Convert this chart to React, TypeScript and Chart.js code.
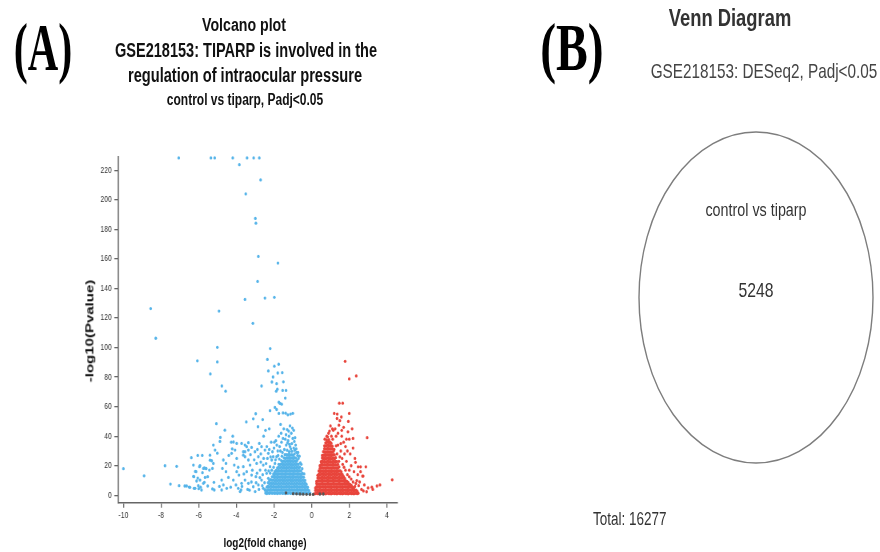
import React, { useEffect, useRef } from "react";
import { Chart, registerables } from "chart.js";

Chart.register(...registerables);

// ---------------- DATA ----------------
const xTicks = [-10, -8, -6, -4, -2, 0, 2, 4];
const yTicks = [0, 20, 40, 60, 80, 100, 120, 140, 160, 180, 200, 220];
const xRange = [-10.27, 4.55];
const yRange = [-5, 229];

// down-regulated, scattered points [log2FC, -log10 p]
const blueSparse: [number, number][] = [
  [-7.06, 228.4], [-5.35, 228.4], [-5.15, 228.4], [-4.19, 228.4], [-3.84, 223.8], [-3.43, 228.4],
  [-3.08, 228.4], [-2.78, 228.4], [-2.71, 213.5], [-3.5, 204], [-2.99, 187.4], [-2.96, 184.2],
  [-2.83, 161.7], [-1.79, 157.2], [-2.87, 144.8], [-3.54, 132.6], [-2.48, 133.5], [-1.98, 134],
  [-8.55, 126.4], [-4.92, 124.7], [-3.12, 116.4], [-8.28, 106.3],
  [-5.01, 100.2], [-2.2, 99.3], [-6.07, 91], [-5.01, 90.3], [-2.35, 92], [-1.98, 87.4], [-1.75, 88.7],
  [-2.3, 84.2], [-5.38, 82.2], [-1.8, 82.8], [-1.56, 83], [-2.05, 80.1], [-2.11, 76.7], [-4.77, 74],
  [-4.57, 70.5], [-2.66, 74], [-1.86, 75.6], [-1.5, 76.8], [-1.88, 70.5], [-1.82, 71.8], [-1.54, 71],
  [-1.36, 71], [-1.4, 65.8], [-1.74, 63], [-1.68, 62.2], [-1.59, 61.7], [-2.21, 57.3], [-1.95, 59.5],
  [-1.86, 58.1], [-1.74, 55.4], [-1.52, 55.8], [-1.38, 55.6], [-1.26, 54.5], [-1.12, 55], [-1.0, 55.5],
  [-2.97, 55.2], [-2.6, 51.3], [-3.1, 51.8], [-3.47, 49.7], [-5.06, 48.5], [-2.85, 46.4], [-4.61, 44.1],
  [-1.3, 44.5], [-1.22, 43.5], [-4.85, 39.2], [-4.87, 36.5], [-4.19, 40], [-4.15, 36.1], [-5.22, 34],
  [-5.13, 30.6], [-5.01, 28.5], [-4.27, 36], [-4.22, 31.5], [-3.98, 35.1], [-3.72, 35.1], [-3.54, 34],
  [-3.36, 35.6], [-3.45, 32.9], [-3.19, 32.4], [-3.36, 30.6], [-3.54, 29.5], [-3.63, 27.2],
  [-10, 18], [-8.9, 13.2], [-7.79, 20], [-7.17, 19.6], [-7.5, 7.6], [-7.04, 6.5], [-6.74, 6.3],
  [-6.51, 5.6], [-6.25, 4.7], [-6.39, 25.5], [-6.05, 27], [-5.81, 27], [-6.18, 16.2], [-6.28, 12.8],
  [-5.93, 20], [-5.7, 18.5], [-5.6, 18], [-6.05, 11.7], [-6.02, 6.5], [-6.0, 4.5], [-5.9, 5.5],
  [-5.85, 3.6], [-5.52, 12.6], [-5.7, 8.8], [-5.4, 23.8],
  [-6.28, 20.5], [-5.96, 19.4], [-6.14, 16], [-6.25, 12.6], [-6.11, 9.7], [-5.93, 10.3], [-6.64, 6.3],
  [-6.46, 5.4], [-6.19, 4.7],
  [-5.4, 27.2], [-5.31, 23.4], [-5.22, 21.6], [-5.27, 18.2], [-5.43, 17.1], [-5.61, 18.2], [-5.75, 18.2],
  [-5.8, 15.3], [-5.66, 12.1], [-5.75, 8.1], [-5.52, 6.3], [-5.27, 4.3], [-5.19, 8.8], [-5.17, 3.6],
  [-4.69, 23.9], [-4.55, 21.6], [-4.74, 18.2], [-4.55, 16], [-4.42, 12.1], [-4.78, 10.3], [-4.69, 7],
  [-4.51, 4.7], [-4.78, 3.6],
  [-4.25, 28.4], [-4.07, 30.6], [-3.98, 25], [-4.11, 20.5], [-3.98, 16], [-3.86, 13.7], [-4.16, 10.3],
  [-4.02, 7], [-3.9, 4.7], [-3.75, 3.6],
  [-3.63, 29.5], [-3.54, 26.1], [-3.36, 23.9], [-3.27, 20.5], [-3.63, 19.4], [-3.45, 16], [-3.19, 13.7],
  [-3.54, 10.3], [-3.36, 8.1], [-3.1, 5.8], [-3.72, 8.1],
  [-3.01, 29.5], [-2.78, 35.1], [-2.66, 32.9], [-2.83, 26.1], [-2.92, 21.6], [-2.57, 20.5], [-2.74, 17.1],
  [-2.96, 12.6], [-2.66, 10.3], [-2.83, 7], [-2.57, 4.7], [-2.48, 3.6],
  [-2.39, 14.9], [-2.3, 11.5], [-2.21, 19.4], [-2.12, 23.9], [-2.04, 26.1], [-1.95, 21.6], [-2.3, 28.4],
  [-2.48, 30.6], [-2.35, 25], [-1.86, 26.1],
  [-1.8, 30], [-1.7, 33], [-1.6, 36], [-1.55, 29], [-1.45, 31], [-1.4, 38], [-1.35, 34], [-1.3, 30.5],
  [-1.25, 37], [-1.2, 40], [-1.15, 33], [-1.1, 31.5], [-1.05, 35], [-1.0, 38.5], [-0.95, 32], [-0.9, 30.5],
  [-0.85, 34], [-0.8, 29], [-0.75, 27], [-0.7, 25], [-1.62, 42], [-1.48, 45], [-1.15, 47], [-1.08, 42],
  [-0.95, 44], [-0.88, 39], [-2.0, 32], [-1.9, 37], [-1.75, 40], [-2.15, 36], [-2.55, 40], [-2.45, 44],
  [-2.25, 45], [-1.65, 48], [-0.6, 22], [-0.5, 18], [-0.4, 14.5],
  [-3.3, 3.5], [-3.2, 9], [-3.15, 17], [-3.05, 24], [-3.0, 2.5], [-2.95, 8.5], [-2.9, 15], [-2.88, 31],
  [-2.8, 4], [-2.75, 12], [-2.7, 22.5], [-2.7, 28], [-2.62, 6.5], [-2.6, 14], [-2.55, 25], [-2.5, 8.5],
  [-2.45, 17], [-2.42, 21.5], [-2.38, 33], [-2.33, 6], [-2.28, 16.5], [-2.25, 31], [-2.2, 15], [-2.18, 26],
  [-2.12, 17], [-2.08, 29.5], [-2.02, 19], [-1.98, 36], [-1.92, 24], [-1.85, 34], [-1.78, 27], [-1.72, 24.5],
  [-1.66, 30], [-1.58, 26.5], [-1.52, 38.5], [-1.42, 27.5], [-1.36, 41], [-1.28, 35.5], [-1.18, 34.5],
  [-1.02, 45.5], [-0.92, 36.5], [-0.82, 31.5], [-0.72, 29], [-0.65, 26.5], [-0.55, 21], [-3.8, 2.5],
  [-3.7, 6], [-4.3, 5.5], [-4.9, 6], [-3.4, 4], [-3.6, 14.5], [-3.9, 19], [-4.4, 27], [-3.25, 27.5],
];

// down-regulated, dense cloud: [log2FC, list of -log10 p]
const blueDense: [number, number[]][] = [
  [-2.45, [1.5, 3.5]],
  [-2.38, [1.2, 3, 5.5]],
  [-2.31, [1.6, 3.8, 6, 8.5]],
  [-2.24, [1.3, 3.4, 5.6, 7.8, 10]],
  [-2.17, [1.8, 4, 6.2, 8.3, 10.6]],
  [-2.1, [1.4, 3.5, 5.7, 7.9, 10.1, 12.5]],
  [-2.03, [1.7, 3.9, 6, 8.2, 10.4, 12.6, 14.5]],
  [-1.96, [1.3, 3.4, 5.5, 7.7, 9.8, 12, 14.1, 16]],
  [-1.89, [1.6, 3.8, 5.9, 8.1, 10.2, 12.4, 14.6, 16.8]],
  [-1.82, [1.2, 3.3, 5.5, 7.6, 9.8, 11.9, 14.1, 16.3, 18.5]],
  [-1.75, [1.7, 3.9, 6, 8.2, 10.3, 12.5, 14.6, 16.8, 19, 21]],
  [-1.68, [1.4, 3.5, 5.7, 7.8, 10, 12.1, 14.3, 16.4, 18.6, 20.8]],
  [-1.61, [1.8, 4, 6.1, 8.3, 10.4, 12.6, 14.7, 16.9, 19.1, 21.3, 23.5]],
  [-1.54, [1.3, 3.4, 5.6, 7.7, 9.9, 12, 14.2, 16.3, 18.5, 20.7, 22.8]],
  [-1.47, [1.6, 3.8, 5.9, 8.1, 10.2, 12.4, 14.5, 16.7, 18.9, 21, 23.2, 25.4]],
  [-1.4, [1.2, 3.3, 5.5, 7.6, 9.8, 11.9, 14.1, 16.2, 18.4, 20.6, 22.7, 24.9]],
  [-1.33, [1.7, 3.9, 6, 8.2, 10.3, 12.5, 14.6, 16.8, 19, 21.1, 23.3, 25.5, 27.6]],
  [-1.26, [1.4, 3.5, 5.7, 7.8, 10, 12.1, 14.3, 16.4, 18.6, 20.8, 22.9, 25.1, 27.3]],
  [-1.19, [1.8, 4, 6.1, 8.3, 10.4, 12.6, 14.7, 16.9, 19.1, 21.2, 23.4, 25.6, 27.8, 29.5]],
  [-1.12, [1.3, 3.4, 5.6, 7.7, 9.9, 12, 14.2, 16.3, 18.5, 20.7, 22.8, 25, 27.2]],
  [-1.05, [1.6, 3.8, 5.9, 8.1, 10.2, 12.4, 14.5, 16.7, 18.9, 21, 23.2, 25.4, 27.5, 29.8]],
  [-0.98, [1.2, 3.3, 5.5, 7.6, 9.8, 11.9, 14.1, 16.2, 18.4, 20.6, 22.7, 24.9, 27]],
  [-0.91, [1.7, 3.9, 6, 8.2, 10.3, 12.5, 14.6, 16.8, 19, 21.1, 23.3, 25.5, 28]],
  [-0.84, [1.4, 3.5, 5.7, 7.8, 10, 12.1, 14.3, 16.4, 18.6, 20.8, 22.9, 25.2]],
  [-0.77, [1.8, 4, 6.1, 8.3, 10.4, 12.6, 14.7, 16.9, 19.1, 21.2, 23.6]],
  [-0.7, [1.3, 3.4, 5.6, 7.7, 9.9, 12, 14.2, 16.3, 18.5, 20.9]],
  [-0.63, [1.6, 3.8, 5.9, 8.1, 10.2, 12.4, 14.5, 16.7, 19]],
  [-0.56, [1.2, 3.3, 5.5, 7.6, 9.8, 11.9, 14.1, 16.4]],
  [-0.49, [1.7, 3.9, 6, 8.2, 10.3, 12.5, 14.8]],
  [-0.42, [1.4, 3.5, 5.7, 7.8, 10, 12.2]],
  [-0.35, [1.8, 4, 6.1, 8.3, 10.1]],
  [-0.28, [1.3, 3.4, 5.6, 7.5]],
  [-0.21, [1.6, 3.8, 5.5]],
  [-0.14, [1.2, 3.2]],
  [-0.08, [1.5]],
];

// up-regulated, scattered points
const redSparse: [number, number][] = [
  [1.78, 90.7], [2.0, 78.8], [2.37, 80.8], [1.47, 62.4], [1.65, 62.4], [1.2, 55.4], [1.36, 55], [2.0, 55.4],
  [1.35, 52], [1.5, 50.5], [1.58, 53], [1.45, 47.5], [1.0, 47], [1.1, 45], [0.95, 43.5], [1.15, 44],
  [1.93, 43], [2.0, 38], [2.2, 38.5], [2.95, 39], [1.6, 40], [1.7, 36], [1.8, 33], [1.9, 30], [1.75, 28],
  [2.05, 28], [2.2, 32], [1.62, 25], [1.85, 23], [2.33, 22.3], [2.1, 20], [2.6, 19.3], [2.88, 19.3],
  [2.25, 16], [2.45, 14], [2.7, 13], [2.55, 9], [2.8, 7], [2.92, 2.4], [3.25, 4], [3.47, 6.3], [3.63, 7],
  [3.2, 5.5], [4.28, 10.5], [2.4, 10], [2.0, 17], [1.55, 30], [1.4, 34], [1.3, 40], [1.25, 45], [0.8, 40],
  [0.9, 42], [1.05, 40], [1.7, 46], [1.95, 50], [2.65, 4], [2.35, 8], [3.0, 5], [2.75, 3], [2.3, 25],
  [2.47, 19.3], [2.6, 16], [2.74, 13], [1.5, 26], [1.45, 23], [1.65, 21], [1.72, 19], [1.8, 17], [1.9, 14],
  [2.0, 12.5], [2.1, 11], [2.2, 9], [2.3, 6], [2.5, 6.5], [1.35, 28], [1.2, 31], [1.3, 33.5], [1.55, 35],
  [1.12, 38], [0.85, 39.5], [1.4, 42], [1.6, 44], [0.7, 38], [1.85, 38], [2.15, 45],
];

// up-regulated, dense cloud
const redDense: [number, number[]][] = [
  [0.14, [1.0]],
  [0.2, [1.2, 3.3, 5]],
  [0.26, [1.5, 3.6, 5.8, 8, 9.5]],
  [0.32, [1.1, 3.2, 5.4, 7.5, 9.7, 11.8, 13.5]],
  [0.38, [1.4, 3.5, 5.7, 7.8, 10, 12.1, 14.3, 16.5]],
  [0.44, [1.0, 3.1, 5.3, 7.4, 9.6, 11.7, 13.9, 16, 18.2, 20]],
  [0.5, [1.3, 3.4, 5.6, 7.7, 9.9, 12, 14.2, 16.3, 18.5, 20.7, 22.8]],
  [0.56, [1.6, 3.7, 5.9, 8, 10.2, 12.3, 14.5, 16.6, 18.8, 21, 23.1, 25.3, 27]],
  [0.62, [1.1, 3.2, 5.4, 7.5, 9.7, 11.8, 14, 16.1, 18.3, 20.5, 22.6, 24.8, 27, 29.5]],
  [0.68, [1.4, 3.5, 5.7, 7.8, 10, 12.1, 14.3, 16.4, 18.6, 20.8, 22.9, 25.1, 27.3, 29.4, 31.6, 33.5]],
  [0.74, [1.0, 3.1, 5.3, 7.4, 9.6, 11.7, 13.9, 16, 18.2, 20.4, 22.5, 24.7, 26.9, 29, 31.2, 33.4, 35.5]],
  [0.8, [1.3, 3.4, 5.6, 7.7, 9.9, 12, 14.2, 16.3, 18.5, 20.7, 22.8, 25, 27.2, 29.3, 31.5, 33.7, 35.8, 37.5]],
  [0.86, [1.6, 3.7, 5.9, 8, 10.2, 12.3, 14.5, 16.6, 18.8, 21, 23.1, 25.3, 27.5, 29.6, 31.8, 34, 36.2]],
  [0.92, [1.1, 3.2, 5.4, 7.5, 9.7, 11.8, 14, 16.1, 18.3, 20.5, 22.6, 24.8, 27, 29.1, 31.3, 33.5, 35.7, 37.6]],
  [0.98, [1.4, 3.5, 5.7, 7.8, 10, 12.1, 14.3, 16.4, 18.6, 20.8, 22.9, 25.1, 27.3, 29.4, 31.6, 33.8, 36]],
  [1.04, [1.0, 3.1, 5.3, 7.4, 9.6, 11.7, 13.9, 16, 18.2, 20.4, 22.5, 24.7, 26.9, 29, 31.2, 33.4, 35.3]],
  [1.1, [1.3, 3.4, 5.6, 7.7, 9.9, 12, 14.2, 16.3, 18.5, 20.7, 22.8, 25, 27.2, 29.3, 31.5, 33.2]],
  [1.16, [1.6, 3.7, 5.9, 8, 10.2, 12.3, 14.5, 16.6, 18.8, 21, 23.1, 25.3, 27.5, 29.8]],
  [1.22, [1.1, 3.2, 5.4, 7.5, 9.7, 11.8, 14, 16.1, 18.3, 20.5, 22.6, 24.8, 27.4]],
  [1.28, [1.4, 3.5, 5.7, 7.8, 10, 12.1, 14.3, 16.4, 18.6, 20.8, 22.9, 25.5]],
  [1.34, [1.0, 3.1, 5.3, 7.4, 9.6, 11.7, 13.9, 16, 18.2, 20.4, 22.8]],
  [1.4, [1.3, 3.4, 5.6, 7.7, 9.9, 12, 14.2, 16.3, 18.5, 21]],
  [1.46, [1.6, 3.7, 5.9, 8, 10.2, 12.3, 14.5, 16.6, 19.2]],
  [1.52, [1.1, 3.2, 5.4, 7.5, 9.7, 11.8, 14, 16.5]],
  [1.58, [1.4, 3.5, 5.7, 7.8, 10, 12.1, 14.3, 15.8]],
  [1.64, [1.0, 3.1, 5.3, 7.4, 9.6, 11.7, 14]],
  [1.7, [1.3, 3.4, 5.6, 7.7, 9.9, 12.6]],
  [1.76, [1.6, 3.7, 5.9, 8, 10.2, 11.5]],
  [1.82, [1.1, 3.2, 5.4, 7.5, 9.7]],
  [1.88, [1.4, 3.5, 5.7, 7.8, 9.5]],
  [1.94, [1.0, 3.1, 5.3, 7.4, 8.8]],
  [2.0, [1.3, 3.4, 5.6, 7.5]],
  [2.06, [1.6, 3.7, 5.9, 7.2]],
  [2.12, [1.1, 3.2, 5.4, 6.5]],
  [2.18, [1.4, 3.5, 5.3]],
  [2.24, [1.0, 3.1, 4.8]],
  [2.3, [1.3, 3.4]],
  [2.36, [1.6, 3.5]],
  [2.42, [1.1, 2.8]],
  [2.48, [1.4]],
];

// not significant
const grayPoints: [number, number][] = [
  [-1.36, 1.6], [-0.98, 1.1], [-0.8, 1.0], [-0.62, 0.9], [-0.45, 0.8], [-0.27, 0.7], [-0.09, 0.6],
  [0.08, 0.6], [0.44, 0.9], [0.62, 0.9],
];

// Venn
const vennSets = ["control vs tiparp"];
const vennCounts = [5248];
const vennTotal = 16277;

// ---------------- STYLE ----------------
const SANS = "'Liberation Sans', Arial, Helvetica, sans-serif";
const SERIF = "'Liberation Serif', 'Times New Roman', serif";
const SQ = 0.8; // horizontal squeeze of the volcano canvas
const VOL_W = 560;
const VOL_H = 552;

const pts = (a: [number, number][]) => a.map(([x, y]) => ({ x, y }));
const cols = (a: [number, number[]][]) => a.flatMap(([x, ys]) => ys.map((y) => ({ x, y })));

function VolcanoChart() {
  const ref = useRef<HTMLCanvasElement>(null);
  useEffect(() => {
    const common = { pointRadius: 1.65, pointHoverRadius: 1.65, pointBorderWidth: 0, clip: false as any };
    const chart = new Chart(ref.current!, {
      type: "scatter",
      data: {
        datasets: [
          { label: "NS", data: pts(grayPoints), backgroundColor: "#555555", borderColor: "#555555", ...common },
          { label: "Up", data: [...cols(redDense), ...pts(redSparse)], backgroundColor: "#E8453C", borderColor: "#E8453C", ...common },
          { label: "Down", data: [...cols(blueDense), ...pts(blueSparse)], backgroundColor: "#56B4E9", borderColor: "#56B4E9", ...common },
        ],
      },
      options: {
        responsive: false,
        animation: false,
        events: [],
        layout: { padding: { left: 107.9, right: 63.4, top: 157, bottom: 24.3 } },
        plugins: { legend: { display: false }, tooltip: { enabled: false }, title: { display: false } },
        scales: {
          x: {
            type: "linear",
            min: xRange[0],
            max: xRange[1],
            afterBuildTicks: (s: any) => { s.ticks = xTicks.map((v) => ({ value: v })); },
            afterFit: (s: any) => { s.height = 25; },
            grid: { drawOnChartArea: false, drawTicks: true, tickLength: 5, color: "#666", lineWidth: 1.3 },
            border: { display: true, color: "#666", width: 1.6 },
            ticks: { color: "#333", font: { size: 8.6, family: SANS }, padding: 3, maxRotation: 0, autoSkip: false },
          },
          y: {
            type: "linear",
            min: yRange[0],
            max: yRange[1],
            afterBuildTicks: (s: any) => { s.ticks = yTicks.map((v) => ({ value: v })); },
            afterFit: (s: any) => { s.width = 40; },
            grid: { drawOnChartArea: false, drawTicks: true, tickLength: 5, color: "#666", lineWidth: 1.3 },
            border: { display: true, color: "#666", width: 1.6 },
            ticks: { color: "#333", font: { size: 8.6, family: SANS }, padding: 3, autoSkip: false },
          },
        },
      } as any,
    });
    return () => chart.destroy();
  }, []);
  return (
    <div style={{ position: "absolute", left: 0, top: 0, width: VOL_W, height: VOL_H, transform: `scaleX(${SQ})`, transformOrigin: "0 0" }}>
      <canvas ref={ref} width={VOL_W} height={VOL_H} style={{ display: "block" }} />
    </div>
  );
}

const vennPlugin = {
  id: "vennEllipse",
  afterDatasetsDraw(chart: any) {
    const { ctx, scales } = chart;
    const x = scales.x, y = scales.y;
    const cx = x.getPixelForValue(0), cy = y.getPixelForValue(0);
    const rx = x.getPixelForValue(1) - cx, ry = cy - y.getPixelForValue(1);
    ctx.save();
    ctx.beginPath();
    ctx.ellipse(cx, cy, rx, ry, 0, 0, Math.PI * 2);
    ctx.strokeStyle = "#7d7d7d";
    ctx.lineWidth = 1.4;
    ctx.stroke();
    const drawText = (t: string, px: number, py: number, size: number) => {
      ctx.save();
      ctx.translate(px, py);
      ctx.scale(0.75, 1);
      ctx.font = `${size}px ${SANS}`;
      ctx.fillStyle = "#333";
      ctx.textAlign = "center";
      ctx.textBaseline = "alphabetic";
      ctx.fillText(t, 0, 0);
      ctx.restore();
    };
    drawText(vennSets[0], cx, y.getPixelForValue(0.494), 19.1);
    drawText(String(vennCounts[0]), cx, y.getPixelForValue(0.005), 21);
    ctx.restore();
  },
};

function VennChart() {
  const ref = useRef<HTMLCanvasElement>(null);
  useEffect(() => {
    const chart = new Chart(ref.current!, {
      type: "scatter",
      data: { datasets: [{ label: vennSets[0], data: [{ x: 0, y: 0 }], pointRadius: 0, pointHoverRadius: 0 }] },
      options: {
        responsive: false,
        animation: false,
        events: [],
        layout: { padding: { left: 39, right: 7, top: 132, bottom: 89 } },
        plugins: { legend: { display: false }, tooltip: { enabled: false } },
        scales: {
          x: { type: "linear", min: -1, max: 1, display: false },
          y: { type: "linear", min: -1, max: 1, display: false },
        },
      } as any,
      plugins: [vennPlugin],
    });
    return () => chart.destroy();
  }, []);
  return (
    <div style={{ position: "absolute", left: 600, top: 0, width: 280, height: 552 }}>
      <canvas ref={ref} width={280} height={552} style={{ display: "block" }} />
    </div>
  );
}

type TxtProps = {
  x: number; base: number; size: number; k: number; bold?: boolean; color?: string;
  serif?: boolean; align?: "center" | "left"; children: React.ReactNode;
};
function Txt({ x, base, size, k, bold, color, serif, align = "center", children }: TxtProps) {
  const asc = serif ? 0.8375 : 0.8465;
  const style: React.CSSProperties = {
    position: "absolute",
    left: x,
    top: base - asc * size,
    fontFamily: serif ? SERIF : SANS,
    fontSize: size,
    lineHeight: `${size}px`,
    fontWeight: bold ? 700 : 400,
    color: color || "#111",
    whiteSpace: "nowrap",
    transform: align === "center" ? `translateX(-50%) scaleX(${k})` : `scaleX(${k})`,
    transformOrigin: align === "center" ? "50% 50%" : "0 0",
  };
  return <div style={style}>{children}</div>;
}

export default function App() {
  return (
    <div style={{ position: "absolute", left: 0, top: 0, width: 880, height: 552, overflow: "hidden", background: "#fff" }}>
      <VolcanoChart />
      <VennChart />
      <Txt x={42.5} base={70} size={68} k={0.62} bold serif color="#000">(A)</Txt>
      <Txt x={571.7} base={70} size={68} k={0.7} bold serif color="#000">(B)</Txt>
      <Txt x={244} base={31.5} size={18.9} k={0.75} bold>Volcano plot</Txt>
      <Txt x={245.5} base={57.5} size={19.4} k={0.75} bold>GSE218153: TIPARP is involved in the</Txt>
      <Txt x={245} base={83} size={19.5} k={0.75} bold>regulation of intraocular pressure</Txt>
      <Txt x={245} base={106} size={16} k={0.75} bold>control vs tiparp, Padj&lt;0.05</Txt>
      <Txt x={265.3} base={547} size={13.3} k={0.75} bold>log2(fold change)</Txt>
      <div
        style={{
          position: "absolute", left: 89, top: 331, fontFamily: SANS, fontSize: 15, lineHeight: "15px",
          fontWeight: 700, color: "#111", whiteSpace: "nowrap",
          transform: "translate(-50%, -50%) scaleX(0.78) rotate(-90deg)",
        }}
      >
        -log10(Pvalue)
      </div>
      <Txt x={730} base={27} size={24.5} k={0.75} bold color="#333">Venn Diagram</Txt>
      <Txt x={763.5} base={78} size={20.4} k={0.75} color="#444">GSE218153: DESeq2, Padj&lt;0.05</Txt>
      <Txt x={593} base={525} size={18} k={0.75} align="left" color="#333">{`Total: ${vennTotal}`}</Txt>
    </div>
  );
}
